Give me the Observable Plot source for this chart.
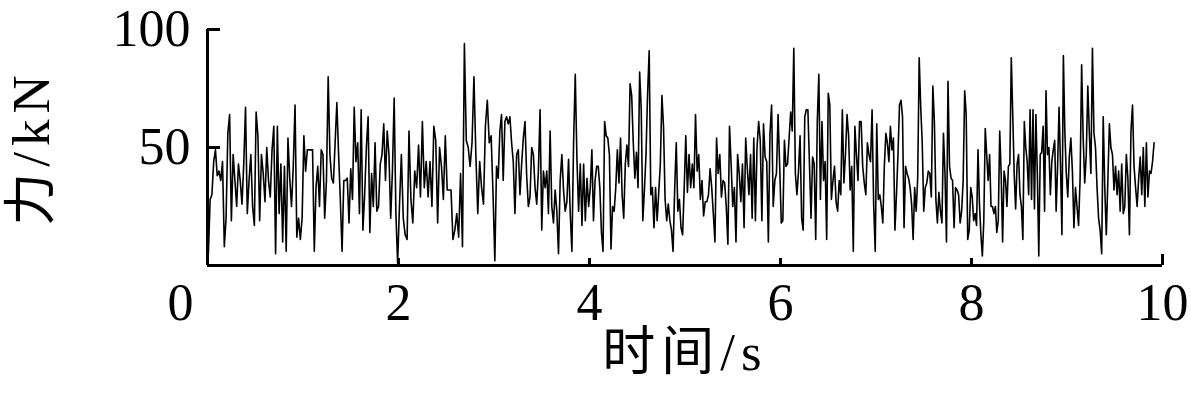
<!DOCTYPE html>
<html><head><meta charset="utf-8">
<script src="https://cdn.jsdelivr.net/npm/d3@7"></script>
<script src="https://cdn.jsdelivr.net/npm/@observablehq/plot@0.6"></script>
<style>html,body{margin:0;padding:0;background:#fff;}</style>
</head><body><div id="chart"></div>
<script>
// Force samples (kN), one array per second of the record
const force0 = [5, 28, 30, 44, 49, 38, 40, 36, 44, 8, 20, 56, 64, 19, 47, 36, 25, 43, 36, 26, 43, 67, 22, 36, 47, 25, 17, 65, 55, 19, 47, 39, 27, 50, 36, 29, 49, 59, 5, 59, 22, 43, 10, 42, 6, 54, 37, 25, 42, 68, 12, 20, 11, 20];
const force1 = [55, 40, 49, 49, 49, 49, 6, 33, 42, 25, 49, 47, 20, 36, 80, 47, 37, 35, 52, 69, 47, 28, 6, 36, 36, 37, 18, 41, 28, 67, 44, 52, 22, 66, 15, 30, 50, 63, 14, 39, 25, 52, 23, 25, 43, 47, 60, 36, 57, 47, 20, 40, 71, 22, 1];
const force2 = [25, 47, 20, 13, 11, 57, 28, 18, 40, 33, 51, 29, 61, 33, 44, 29, 44, 25, 59, 53, 18, 50, 42, 28, 55, 32, 32, 32, 11, 15, 22, 12, 39, 8, 94, 53, 50, 42, 52, 80, 47, 22, 44, 33, 26, 59, 70, 52, 55, 30];
const force3 = [2, 42, 37, 57, 64, 36, 61, 63, 60, 63, 52, 44, 22, 47, 49, 30, 43, 54, 61, 38, 25, 29, 50, 47, 33, 26, 40, 66, 15, 40, 33, 40, 22, 57, 25, 18, 32, 23, 5, 36, 47, 32, 23, 27, 45, 22, 6, 52, 81, 45, 23, 43, 17, 43, 19, 37, 25];
const force4 = [33, 49, 19, 36, 42, 42, 33, 14, 6, 61, 55, 54, 47, 7, 25, 23, 33, 49, 35, 54, 30, 20, 43, 51, 42, 77, 72, 52, 37, 48, 33, 82, 66, 19, 32, 47, 73, 91, 30, 33, 16, 33, 19, 31, 43, 72, 59, 28, 19, 26, 19, 15, 6, 32, 52, 23, 28, 16, 13, 33];
const force5 = [55, 31, 47, 33, 43, 33, 64, 40, 47, 28, 36, 21, 27, 27, 30, 41, 33, 22, 10, 54, 39, 47, 29, 36, 35, 25, 9, 59, 43, 25, 33, 10, 47, 39, 27, 43, 16, 54, 41, 30, 47, 20, 54, 19, 50, 61, 53, 19, 60, 46, 44, 10, 56, 68, 25, 36, 39, 64, 42];
const force6 = [18, 19, 53, 42, 43, 54, 65, 57, 92, 39, 30, 40, 55, 20, 15, 63, 66, 66, 43, 20, 46, 43, 11, 61, 81, 28, 61, 36, 44, 11, 73, 68, 28, 36, 42, 27, 23, 36, 30, 66, 35, 47, 64, 55, 32, 42, 6, 59, 47, 36, 61, 61, 42, 35, 30, 52, 47, 44, 66, 26, 6];
const force7 = [60, 28, 30, 25, 18, 42, 56, 52, 44, 59, 49, 54, 15, 30, 47, 68, 70, 63, 16, 42, 39, 37, 33, 26, 11, 33, 23, 37, 88, 67, 52, 23, 33, 35, 40, 39, 29, 76, 61, 28, 18, 31, 23, 18, 56, 39, 10, 78, 42, 37, 36, 16, 33, 32, 30, 18, 23, 36, 74, 64, 11, 15, 33];
const force8 = [29, 19, 22, 17, 49, 26, 13, 4, 19, 58, 47, 36, 47, 25, 25, 22, 25, 14, 19, 57, 39, 10, 40, 36, 25, 42, 43, 88, 64, 39, 24, 43, 47, 30, 25, 11, 61, 50, 44, 30, 66, 28, 66, 24, 64, 39, 4, 47, 48, 59, 23, 74, 47, 50, 30, 44, 49, 53, 23, 42, 67, 43, 13, 89, 57, 39];
const force9 = [29, 46, 54, 40, 16, 33, 25, 17, 37, 85, 54, 35, 47, 76, 56, 39, 92, 56, 50, 33, 20, 15, 5, 63, 33, 13, 36, 60, 50, 47, 32, 42, 30, 40, 23, 43, 22, 25, 47, 37, 13, 57, 68, 42, 33, 25, 37, 46, 30, 50, 25, 52, 29, 40, 39, 44, 52];

// start time and duration (s) of each block of samples
const blockStart = [0, 1, 2, 3, 4, 5, 6, 7, 8, 9];
const blockDuration = [1, 1, 1, 1, 1, 1, 1, 1, 1, 0.92];

// axis ticks and labels
const timeMinorTicks = [2, 4, 6, 8];
const timeEndTick = [10];
const timeLabels = [2, 4, 6, 8, 10];
const originLabel = [0];
const forceTicks = [50, 100];
const xTitle = "时间/s";
const yTitle = "力/kN";

const blocks = [force0, force1, force2, force3, force4, force5, force6, force7, force8, force9];
const samples = blocks.flatMap((vals, k) =>
  vals.map((f, j) => ({t: blockStart[k] + blockDuration[k] * (j + 0.5) / vals.length, f})));

const W = 1191, H = 393;
const mL = 207, mR = 29, mT = 29, mB = 128;
const pw = W - mL - mR, ph = H - mT - mB;
const serif = "'Liberation Serif','Times New Roman','Noto Sans CJK SC',serif";

const chart = Plot.plot({
  width: W, height: H,
  marginLeft: mL, marginRight: mR, marginTop: mT, marginBottom: mB,
  x: {domain: [0, 10]},
  y: {domain: [0, 100]},
  style: {fontFamily: serif, background: "#fff", color: "#000", overflow: "visible"},
  marks: [
    Plot.line(samples, {x: "t", y: "f", stroke: "#000", strokeWidth: 1.6}),
    Plot.ruleX([0], {stroke: "#000", strokeWidth: 3}),
    Plot.ruleY([0], {stroke: "#000", strokeWidth: 3}),
    Plot.tickY(forceTicks, {y: d => d, stroke: "#000", strokeWidth: 3, insetRight: pw - 13}),
    Plot.tickX(timeMinorTicks, {x: d => d, stroke: "#000", strokeWidth: 3, insetTop: ph - 7}),
    Plot.tickX(timeEndTick, {x: d => d, stroke: "#000", strokeWidth: 3, insetTop: ph - 11}),
    Plot.axisY(forceTicks, {tickSize: 0, tickPadding: 17, fontSize: 52, fontFamily: serif, label: null}),
    Plot.axisX(timeLabels, {tickSize: 0, tickPadding: 18, fontSize: 52, fontFamily: serif, label: null}),
    Plot.axisX(originLabel, {tickSize: 0, tickPadding: 18, fontSize: 52, fontFamily: serif, dx: -27, label: null}),
    Plot.text([yTitle], {text: d => d, frameAnchor: "left", textAnchor: "middle", lineAnchor: "middle", dx: -175, rotate: -90, fontSize: 53, fontFamily: serif}),
    Plot.text([xTitle], {text: d => d, frameAnchor: "bottom", textAnchor: "middle", lineAnchor: "middle", dy: 88, fontSize: 53, fontFamily: serif})
  ]
});
// widen the letter spacing of the two titles, as in the reference
d3.select(chart).selectAll("text").filter(function() {
  const s = this.textContent;
  return s === xTitle || s === yTitle;
}).attr("letter-spacing", "6px");
document.getElementById("chart").appendChild(chart);
</script>
</body></html>
